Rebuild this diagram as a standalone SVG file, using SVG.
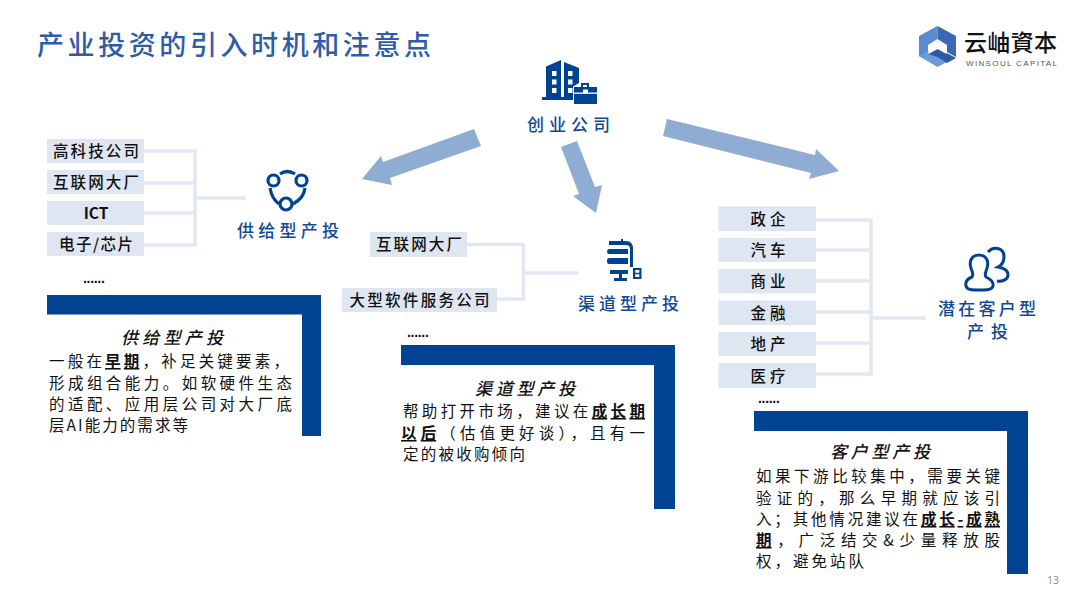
<svg xmlns="http://www.w3.org/2000/svg" width="1080" height="608" viewBox="0 0 1080 608">
<style>
text{font-family:"Noto Sans CJK SC","Noto Sans",sans-serif}
.title{font-size:27px;fill:#2F5CA6;font-weight:500}
.blue{font-size:17px;fill:#0F4A96;font-weight:500}
.tag{font-size:15.5px;fill:#111;font-weight:500;text-anchor:middle}
.tagbox{fill:#DEE6F2}
.body{font-size:15.5px;fill:#111}
.ptitle{font-size:17px;fill:#111;font-style:italic;font-weight:500}
.dots{font-size:14px;fill:#111;font-weight:700;font-family:"Liberation Sans",sans-serif}
.key{font-weight:700;text-decoration:underline}
.panel{fill:#004393}
.ico{fill:#004393}
.line{fill:none;stroke:#E1E8F4;stroke-width:3.5}
.arrow{fill:#8FADD2}
</style>
<rect width="1080" height="608" fill="#fff"/>
<text class="title" x="37" y="55" textLength="394">产业投资的引入时机和注意点</text>

<g id="logo">
<polygon points="937.500,26 919,36 919,56 928,61 928,45 937.500,39" fill="#5A8BCE"/>
<polygon points="937.500,26 956,36 956,57 947,52 947,45 937.500,39" fill="#3A68B4"/>
<polygon points="919,56 937.500,67 947,62 928,51" fill="#6C9AD6"/>
<polygon points="928,54 937.500,48 956,58 947,63 937.500,57" fill="#2B5AA2"/>
<polygon points="937.500,40 946.500,45.500 946.500,54 937.500,49 928.500,54 928.500,45.500" fill="#fff"/>
<text x="964" y="51" font-size="23" font-weight="500" fill="#111" textLength="93" style="font-family:'Noto Sans CJK TC',sans-serif">云岫資本</text>
<text x="966" y="66" font-size="8" fill="#555" textLength="91" style="font-family:'Liberation Sans',sans-serif">WINSOUL CAPITAL</text>
</g>

<g id="connectors">
<polygon class="arrow" points="474,129 481,146 390,178 392,185 362,179 381,156 383,162"/>
<polygon class="arrow" points="561,147 577,141 595,187 602,185 596,213 573,196 579,194"/>
<polygon class="arrow" points="667,119 663,136 811,173 809,179 839,171 816,149 815,155"/>
<path class="line" d="M144 151H195V245H144M144 183H195M144 213H195M195 198H246"/>
<path class="line" d="M467 244.500H523.500V299H497M523.500 273H578"/>
<path class="line" d="M816 220H871V374H816M816 250H871M816 281H871M816 312H871M816 343H871M871 318H926"/>
</g>

<g id="startup">
<path class="ico" d="M546 97V66.500L561 60V97ZM564 97V62L579 68V83L573 86.500V97ZM542 97H573V100H542Z"/>
<g fill="#fff">
<rect x="552" y="71" width="4.500" height="5"/><rect x="552" y="79.500" width="4.500" height="5"/><rect x="552" y="88" width="4.500" height="5"/>
<rect x="568" y="71" width="4.500" height="5"/><rect x="568" y="79.500" width="4.500" height="5"/><rect x="568" y="88" width="4.500" height="5"/>
</g>
<path class="ico" d="M574 87H581V83H589V87H597V104H574ZM583 85V87H587V85Z" fill-rule="evenodd"/>
<rect x="574" y="92.500" width="23" height="1.300" fill="#fff"/><rect x="583" y="89.500" width="5" height="4" fill="#fff"/>
<text class="blue" x="527" y="131" textLength="83">创业公司</text>
</g>

<g id="supply">
<g fill="none" stroke="#004393" stroke-width="3.200">
<circle cx="273.500" cy="180.500" r="5.500"/><circle cx="301.500" cy="180.500" r="5.500"/><circle cx="286" cy="204" r="6"/>
<path d="M280 174Q287 169 295 174M270 188Q272 199 279 204M305 188Q304 198 293 204"/>
</g>
<text class="blue" x="237" y="237" textLength="102">供给型产投</text>
</g>

<g id="channel">
<path class="ico" d="M621 239H623V241H626Q633 241 633 249V267H630V249Q630 245 626 245H609V241H621ZM609 249H628V254H609Q607 254 607 251.500Q607 249 609 249ZM609 258H628V264H609Q607 264 607 261Q607 258 609 258ZM610 270H628V274H622V278H627V281H614V278H619V274H610ZM633 268H641.500V279H633ZM635.200 270V272.700H639.300V270ZM635.200 274.300V277H639.300V274.300Z" fill-rule="evenodd"/>
<text class="blue" x="578" y="310" textLength="101">渠道型产投</text>
</g>

<g id="customer">
<g fill="none" stroke="#004393" stroke-width="3">
<path d="M979 255C971 255 969 262 971 268C972 272 974 274 972 277C967 279 965 282 966 286C967 290 972 290 979 290C987 290 992 290 993 286C994 282 990 279 986 277C984 274 986 272 987 268C989 262 987 255 979 255Z"/>
<path d="M988 252C993 246 1004 247 1004 257C1004 262 1002 265 998 267C1004 268 1008 271 1008 275C1008 279 1003 282 997 281"/>
</g>
<text class="blue" x="938" y="315" textLength="98">潜在客户型</text>
<text class="blue" x="967" y="338" textLength="41">产投</text>
</g>

<g id="tags-supply">
<rect class="tagbox" x="47" y="139" width="97" height="24"/><text class="tag" x="96" y="157" textLength="86">高科技公司</text>
<rect class="tagbox" x="47" y="170" width="97" height="24"/><text class="tag" x="96" y="188" textLength="86">互联网大厂</text>
<rect class="tagbox" x="47" y="201" width="97" height="24"/><text class="tag" x="96" y="219" style="font-weight:700">ICT</text>
<rect class="tagbox" x="47" y="232" width="97" height="24"/><text class="tag" x="96" y="250" textLength="74">电子/芯片</text>
<text class="dots" x="83" y="283" letter-spacing="-.300">......</text>
</g>

<g id="tags-channel">
<rect class="tagbox" x="370" y="232" width="97" height="25"/><text class="tag" x="419" y="250" textLength="86">互联网大厂</text>
<rect class="tagbox" x="342" y="288" width="155" height="24"/><text class="tag" x="419.500" y="306" textLength="140">大型软件服务公司</text>
<text class="dots" x="407" y="337" letter-spacing="-.300">......</text>
</g>

<g id="tags-customer">
<rect class="tagbox" x="718.500" y="206.500" width="97.500" height="24.500"/><text class="tag" x="768" y="225" textLength="35">政企</text>
<rect class="tagbox" x="718.500" y="238" width="97.500" height="24"/><text class="tag" x="768" y="256" textLength="35">汽车</text>
<rect class="tagbox" x="718.500" y="269" width="97.500" height="24.500"/><text class="tag" x="768" y="287" textLength="35">商业</text>
<rect class="tagbox" x="718.500" y="300.500" width="97.500" height="24.500"/><text class="tag" x="768" y="319" textLength="35">金融</text>
<rect class="tagbox" x="718.500" y="332" width="97.500" height="24"/><text class="tag" x="768" y="350" textLength="35">地产</text>
<rect class="tagbox" x="718.500" y="363" width="97.500" height="25"/><text class="tag" x="768" y="382" textLength="35">医疗</text>
<text class="dots" x="758" y="403" letter-spacing="-.300">......</text>
</g>

<g id="panel-supply">
<path class="panel" d="M47 295H321V436H302V314.500H47Z"/>
<text class="ptitle" x="121" y="344" textLength="102">供给型产投</text>
<text class="body" x="49" y="367" textLength="240">一般在<tspan class="key">早期</tspan>，补足关键要素，</text>
<text class="body" x="49" y="389" textLength="243">形成组合能力。如软硬件生态</text>
<text class="body" x="49" y="410" textLength="243">的适配、应用层公司对大厂底</text>
<text class="body" x="49" y="431" textLength="139">层AI能力的需求等</text>
</g>

<g id="panel-channel">
<path class="panel" d="M401 345H675V509H654V365H401Z"/>
<text class="ptitle" x="475" y="395" textLength="100">渠道型产投</text>
<text class="body" x="403" y="417" textLength="242">帮助打开市场，建议在<tspan class="key">成长期</tspan></text>
<text class="body" x="401" y="439" textLength="244"><tspan class="key">以后</tspan>（估值更好谈），且有一</text>
<text class="body" x="403" y="460" textLength="122">定的被收购倾向</text>
</g>

<g id="panel-customer">
<path class="panel" d="M754 411H1028V574H1007V431H754Z"/>
<text class="ptitle" x="830" y="458" textLength="100">客户型产投</text>
<text class="body" x="756" y="482" textLength="244">如果下游比较集中，需要关键</text>
<text class="body" x="756" y="504" textLength="244">验证的，那么早期就应该引</text>
<text class="body" x="756" y="525" textLength="244">入；其他情况建议在<tspan class="key">成长-成熟</tspan></text>
<text class="body" x="756" y="546" textLength="244"><tspan class="key">期</tspan>，广泛结交&amp;少量释放股</text>
<text class="body" x="756" y="567" textLength="108">权，避免站队</text>
</g>

<text x="1047" y="584" font-size="10.500" fill="#8a8a8a" style="font-family:'Open Sans',sans-serif">13</text>
</svg>
